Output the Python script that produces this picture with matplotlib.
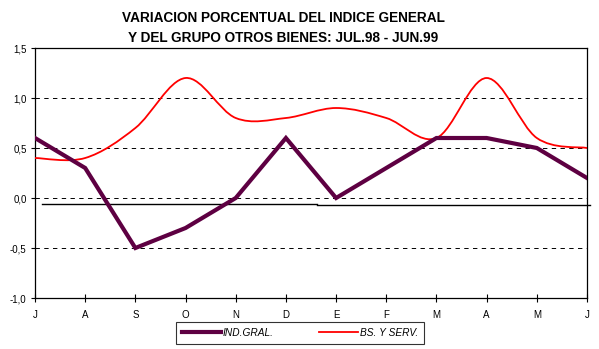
import matplotlib
matplotlib.use("Agg")
import matplotlib.pyplot as plt
from matplotlib.path import Path
from matplotlib.patches import PathPatch
from matplotlib.lines import Line2D
import numpy as np

months = ["J", "A", "S", "O", "N", "D", "E", "F", "M", "A", "M", "J"]
ind_gral = [0.6, 0.3, -0.5, -0.3, 0.0, 0.6, 0.0, 0.3, 0.6, 0.6, 0.5, 0.2]
bs_serv = [0.4, 0.4, 0.7, 1.2, 0.8, 0.8, 0.9, 0.8, 0.6, 1.2, 0.6, 0.5]
y_ticks = [-1.0, -0.5, 0.0, 0.5, 1.0, 1.5]
y_labels = ["-1,0", "-0,5", "0,0", "0,5", "1,0", "1,5"]
grid_levels = [-0.5, 0.0, 0.5, 1.0]
# stray solid baseline segments in the original (y, x-start, x-end)
base_segments = [(-0.063, 0.14, 5.62), (-0.073, 5.62, 11.06)]

title = "VARIACION PORCENTUAL DEL INDICE GENERAL\nY DEL GRUPO OTROS BIENES: JUL.98 - JUN.99"

PURPLE = "#5e0042"
RED = "#ff0000"

plt.rcParams['font.family'] = ['Liberation Sans', 'DejaVu Sans']

fig = plt.figure(figsize=(5.99, 3.49), dpi=100)
ax = fig.add_axes([35/599, 1 - 298/349, (587-35)/599, (298-48)/349])

x = np.arange(len(months))
ax.set_xlim(0, len(months) - 1)
ax.set_ylim(-1.0, 1.5)

for g in grid_levels:
    ax.axhline(g, color="black", lw=0.7, ls=(0, (4.5, 4.5)), zorder=1)

for yv, x0, x1 in base_segments:
    ax.plot([x0, x1], [yv, yv], color="black", lw=1.0, clip_on=False, zorder=2)

# smoothed red line (Excel-style bezier through the data points)
verts = [(x[0], bs_serv[0])]
codes = [Path.MOVETO]
n = len(bs_serv)
for i in range(n - 1):
    p0 = np.array([x[max(i-1, 0)], bs_serv[max(i-1, 0)]])
    p1 = np.array([x[i], bs_serv[i]])
    p2 = np.array([x[i+1], bs_serv[i+1]])
    p3 = np.array([x[min(i+2, n-1)], bs_serv[min(i+2, n-1)]])
    c1 = p1 + (p2 - p0) / 6
    c2 = p2 - (p3 - p1) / 6
    verts += [tuple(c1), tuple(c2), tuple(p2)]
    codes += [Path.CURVE4] * 3
patch = PathPatch(Path(verts, codes), facecolor="none", edgecolor=RED, lw=1.3, zorder=3)
ax.add_patch(patch)

ax.plot(x, ind_gral, color=PURPLE, lw=3.0, solid_joinstyle="miter", zorder=4)

ax.set_xticks(x)
ax.set_xticklabels(months, fontsize=7)
ax.set_yticks(y_ticks)
ax.set_yticklabels(y_labels, fontsize=7)
ax.tick_params(axis="x", direction="inout", length=6, width=0.8, pad=6)
ax.tick_params(axis="y", direction="out", length=3, width=0.8, pad=3)
for s in ax.spines.values():
    s.set_linewidth(0.9)
    s.set_color("black")

fig.text(283/599, 1 - 11/349, title, ha="center", va="top", fontsize=9.8,
         fontweight="bold", linespacing=1.55)

handles = [Line2D([], [], color=PURPLE, lw=3.0), Line2D([], [], color=RED, lw=1.3)]
leg = fig.legend(handles, ["IND.GRAL.", "BS. Y SERV."], loc="center",
                 bbox_to_anchor=(300/599, 1 - 333/349), ncol=2, frameon=True,
                 fancybox=False, edgecolor="black", prop={"size": 7.3, "style": "italic"},
                 handlelength=3.8, handletextpad=0.2, columnspacing=4.5,
                 borderpad=0.6)
leg.get_frame().set_linewidth(0.8)

fig.savefig("out.png", dpi=100)
